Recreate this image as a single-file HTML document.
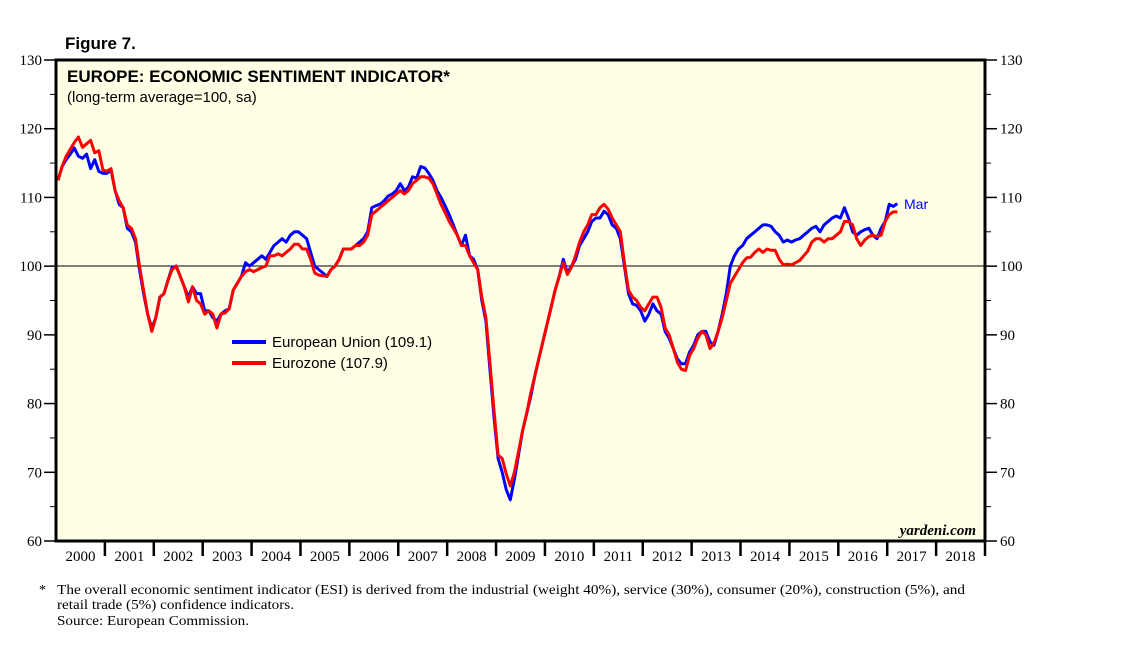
<!DOCTYPE html>
<html><head><meta charset="utf-8"><style>
body{margin:0;background:#fff;width:1138px;height:642px;overflow:hidden;font-family:"Liberation Sans",sans-serif}
</style></head><body>
<svg width="1138" height="642" font-family="Liberation Sans, sans-serif">
<text x="65" y="49" font-size="17" font-weight="bold">Figure 7.</text>
<rect x="56" y="60" width="929" height="481" fill="#ffffe6" stroke="none"/>
<g id="axes"></g>
<line x1="56" x2="985" y1="266" y2="266" stroke="#000" stroke-width="1"/>
<g id="series"></g>
<rect x="56" y="60" width="929" height="481" fill="none" stroke="#000" stroke-width="3"/>
<text x="67" y="82" font-size="17" font-weight="bold">EUROPE: ECONOMIC SENTIMENT INDICATOR*</text>
<text x="67" y="102" font-size="15">(long-term average=100, sa)</text>
<line x1="232" x2="266" y1="342" y2="342" stroke="#00f" stroke-width="4"/>
<text x="272" y="347" font-size="15">European Union (109.1)</text>
<line x1="232" x2="266" y1="363" y2="363" stroke="#f00" stroke-width="4"/>
<text x="272" y="368" font-size="15">Eurozone (107.9)</text>
<text x="904" y="209" font-size="14" fill="#00f">Mar</text>
<text x="976" y="535" font-size="15" font-style="italic" font-weight="bold" text-anchor="end" font-family="Liberation Serif, serif">yardeni.com</text>
<g font-family="Liberation Serif, serif" font-size="14">
<text x="39" y="594">*</text>
<text x="57" y="594" textLength="908" lengthAdjust="spacingAndGlyphs">The overall economic sentiment indicator (ESI) is derived from the industrial (weight 40%), service (30%), consumer (20%), construction (5%), and</text>
<text x="57" y="609" textLength="237" lengthAdjust="spacingAndGlyphs">retail trade (5%) confidence indicators.</text>
<text x="57" y="625" textLength="192" lengthAdjust="spacingAndGlyphs">Source: European Commission.</text>
</g>
</svg>
<script>
const yTicks=[60,70,80,90,100,110,120,130];
const years=["2000","2001","2002","2003","2004","2005","2006","2007","2008","2009","2010","2011","2012","2013","2014","2015","2016","2017","2018"];
const eu=[112.5,114.5,115.5,116.3,117.2,116,115.7,116.3,114.2,115.5,113.8,113.5,
113.5,114,111,109,108.5,105.5,105,103.5,99.5,96,93,91,
92.5,95.5,96,98,99.8,100,98.5,97,95.5,97,96,96,
93.5,93.5,92.5,92,93,93.5,93.8,96.5,97.5,98.5,100.5,100,
100.5,101,101.5,101,102,103,103.5,104,103.5,104.5,105,105,
104.5,104,102,100,99.5,99,98.5,99.5,100,101,102.5,102.5,
102.5,103,103.5,104,105,108.5,108.8,109,109.5,110.2,110.5,111,
112,111,111.5,113,112.8,114.5,114.3,113.5,112.5,111,110,108.8,
107.5,106,104.5,103,104.5,101.5,101,99.5,95,92,85,78,
72,70,67.5,66,69,72.5,76,78.5,81,84,86.5,89,
91.5,94,96.5,98.5,101,99,100,101,103,104,105,106.5,
107,107,108,107.5,106,105.5,104,100,96,94.5,94.3,93.5,
92,93,94.5,93.5,93,90.5,89.5,88,86.5,85.8,85.8,87.5,
88.5,90,90.5,90.5,89,88.5,90.5,93,96,100,101.5,102.5,
103,104,104.5,105,105.5,106,106,105.8,105,104.5,103.5,103.8,
103.5,103.8,104,104.5,105,105.5,105.8,105,106,106.5,107,107.3,
107,108.5,107,105,104.5,105,105.3,105.5,104.5,104,105.5,106.5,
109,108.7,109.1];
const ez=[112.5,114.5,116,117,118,118.8,117.3,117.8,118.3,116.5,116.8,114,
113.8,114.2,111,109.5,108.5,106,105.5,104,100,96.5,93,90.5,
92.5,95.5,96,98,99.5,100,98.5,97,94.8,97,95,94.5,
93,93.5,93,91,93,93.2,93.8,96.5,97.5,98.5,99.2,99.5,
99.2,99.5,99.8,100,101.5,101.5,101.8,101.5,102,102.5,103.2,103.2,
102.5,102.5,101,99,98.7,98.6,98.5,99.5,100,101,102.5,102.5,
102.5,103,103,103.5,104.5,107.5,108,108.5,109,109.5,110,110.5,
111,110.5,111,112,112.5,113,113,112.8,112,110.5,109,107.8,
106.5,105.5,104.5,103,103,101.5,100.5,99.5,95.5,92.5,86,79,
72.5,72,69.8,68,70,73,76,78.5,81.5,84,86.5,89,
91.5,94,96.5,98.5,100.5,98.8,99.8,101.5,103.5,105,106,107.5,
107.5,108.5,109,108.3,107,106,105,100.5,96.5,95.5,95,94,
93.5,94.5,95.5,95.5,94,91,90,88,86,85,84.8,87,
88,89.5,90.5,90,88,88.8,90.5,92.5,95,97.5,98.5,99.5,
100.5,101.2,101.3,102,102.5,102,102.5,102.3,102.3,101,100.2,100.3,
100.2,100.5,100.8,101.5,102.2,103.5,104,104,103.5,104,104,104.5,
105,106.5,106.5,106,104,103,103.8,104.3,104.5,104.3,104.5,106.5,
107.5,107.9,107.9];
const NS='http://www.w3.org/2000/svg';
const L=56,R=985,T=60,B=541,yMin=60,yMax=130;
const yw=(R-L)/19;
function ys(v){return B-(v-yMin)/(yMax-yMin)*(B-T);}
function xs(i){return L+(i+0.5)*yw/12;}
function mk(tag,attrs,parent){const e=document.createElementNS(NS,tag);for(const k in attrs)e.setAttribute(k,attrs[k]);parent.appendChild(e);return e;}
const ax=document.getElementById('axes');
yTicks.forEach(v=>{
  const y=ys(v);
  let t=mk('text',{x:L-14,y:y+5,'font-size':15,'text-anchor':'end','font-family':'Liberation Serif, serif'},ax);t.textContent=v;
  
  
  let t2=mk('text',{x:R+15,y:y+5,'font-size':15,'font-family':'Liberation Serif, serif'},ax);t2.textContent=v;
  
  
  mk('line',{x1:L-12,x2:L,y1:y,y2:y,stroke:'#000','stroke-width':1.5},ax);
  mk('line',{x1:R,x2:R+12,y1:y,y2:y,stroke:'#000','stroke-width':1.5},ax);
  if(v<yMax){const ym=ys(v+5);
    mk('line',{x1:L-6,x2:L,y1:ym,y2:ym,stroke:'#000'},ax);
    mk('line',{x1:R,x2:R+6,y1:ym,y2:ym,stroke:'#000'},ax);}
});
years.forEach((yr,i)=>{
  const x0=L+i*yw;
  if(i>0)mk('line',{x1:x0,x2:x0,y1:B,y2:B+15,stroke:'#000','stroke-width':2.5},ax);
  const t=mk('text',{x:x0+yw/2,y:B+20,'font-size':15,'text-anchor':'middle','font-family':'Liberation Serif, serif'},ax);t.textContent=yr;
  
  
});
mk('line',{x1:R,x2:R,y1:B,y2:B+15,stroke:'#000','stroke-width':2.5},ax);
const sg=document.getElementById('series');
function line(data,color,name){
  const d=data.map((v,i)=>(i?'L':'M')+xs(i).toFixed(1)+','+ys(v).toFixed(1)).join('');
  const p=mk('path',{d:d,fill:'none',stroke:color,'stroke-width':3,'stroke-linejoin':'round'},sg);
  
  
}
line(eu,'#0000ff','eu-line');
line(ez,'#ff0000','ez-line');
</script>
</body></html>
